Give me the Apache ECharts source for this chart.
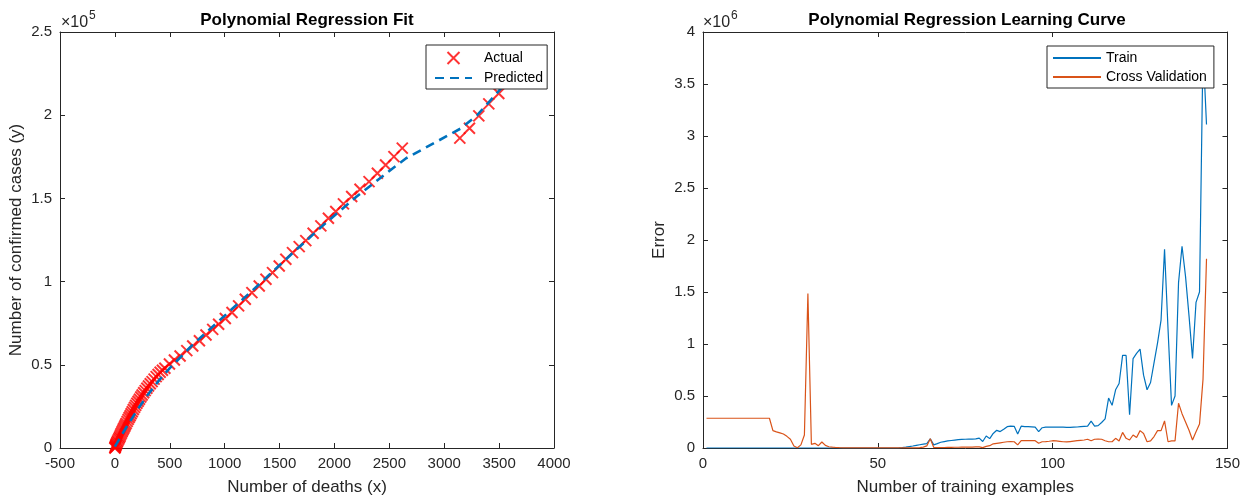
<!DOCTYPE html>
<html><head><meta charset="utf-8">
<script src="https://cdn.jsdelivr.net/npm/echarts@6/dist/echarts.min.js"></script>
<style>html,body{margin:0;padding:0;background:#fff}#c{width:1243px;height:501px}</style>
</head><body><div id="c"></div>
<script>
// ---- Left panel: actual data (deaths vs confirmed cases) ----
const deaths = [0, 2, 4, 6, 9, 12, 16, 21, 26, 33, 39, 45, 51, 58, 65, 73, 80, 88, 95, 103,
  112, 121, 130, 139, 148, 158, 168, 179, 189, 200, 212, 224, 236, 248, 262, 276, 291, 306, 322, 339,
  357, 376, 394, 412, 433, 455, 497, 542, 594, 655, 709, 770, 830, 891, 945, 1006, 1067, 1127, 1188, 1248,
  1315, 1376, 1436, 1497, 1557, 1618, 1679, 1739, 1806, 1876, 1945, 2012, 2082, 2157, 2233, 2315, 2391, 2466, 2542, 2618,
  3142, 3230, 3315, 3406, 3497];
const cases = [0, 300, 700, 1200, 1700, 2200, 2900, 3600, 4300, 5200, 6000, 6800, 7800, 8800, 9800, 10800, 11800, 12800, 13800, 14800,
  16000, 17200, 18300, 19400, 20600, 21800, 23100, 24400, 25600, 26900, 28100, 29300, 30600, 31900, 33200, 34500, 35900, 37300, 38600, 39900,
  41400, 42900, 44200, 45500, 46700, 47900, 50500, 52900, 55300, 58500, 61300, 64500, 67900, 71300, 74400, 77800, 81400, 85400, 89400, 93400,
  97400, 101400, 105400, 109400, 113400, 117400, 121000, 124600, 129100, 133500, 138100, 142100, 146700, 151100, 155500, 160100, 165100, 170100, 175100, 180200,
  186200, 192200, 199600, 206800, 213000];
// ---- Left panel: polynomial prediction ----
const predDeaths = [0, 100, 200, 300, 400, 500, 700, 1000, 1300, 1600, 1900, 2200, 2500, 2650, 3150, 3300, 3530];
const predCases  = [800, 12000, 22500, 32000, 40500, 48000, 61500, 79500, 97500, 116000, 134000, 151000, 166500, 174000, 192000, 200000, 217000];

// ---- Right panel: learning curve errors, training examples 1..144 ----
const trainError = [
  0,0,0,0,0,0,0,0,0,0,
  0,0,0,0,0,0,0,0,0,0,
  0,0,0,0,0,0,0,0,0,0,
  0,0,0,0,0,0,0,0,0,0,
  0,0,0,0,0,0,0,0,0,0,
  0,0,0,0,0,2000,5000,9000,14000,19000,
  25000,31000,37000,42000,88000,30000,42000,55000,62000,68000,
  72000,76000,80000,82000,84000,85000,86000,88000,95000,62000,
  115000,90000,140000,170000,158000,180000,205000,210000,208000,135000,
  210000,205000,205000,203000,200000,158000,195000,200000,200000,200000,
  200000,200000,200000,198000,198000,200000,202000,205000,208000,210000,
  258000,210000,215000,245000,280000,480000,410000,560000,620000,890000,
  890000,320000,860000,910000,950000,700000,560000,630000,820000,1010000,
  1230000,1910000,1140000,410000,500000,1590000,1940000,1650000,1270000,860000,
  1400000,1500000,3850000,3110000];
const cvError = [
  286000,286000,286000,286000,286000,286000,286000,286000,286000,286000,
  286000,286000,286000,286000,286000,286000,286000,286000,286000,167000,
  155000,145000,135000,112000,85000,20000,3000,30000,125000,1485000,
  35000,45000,22000,58000,25000,12000,8000,5000,3000,2000,
  2000,2000,2000,2000,2000,2000,2000,2000,2000,2000,
  2000,2000,2000,2000,2000,2000,2000,2000,2000,2000,
  2000,3000,8000,20000,88000,5000,5000,5000,5000,6000,
  6000,7000,7000,8000,8000,9000,9000,10000,10000,4000,
  15000,22000,40000,45000,50000,55000,60000,62000,60000,30000,
  70000,70000,70000,70000,70000,45000,60000,62000,65000,70000,
  68000,64000,60000,58000,62000,66000,70000,74000,77000,84000,
  70000,84000,86000,84000,70000,60000,60000,93000,68000,150000,
  93000,77000,125000,100000,167000,140000,60000,68000,110000,167000,
  167000,260000,60000,68000,68000,430000,330000,250000,170000,77000,
  157000,230000,660000,1820000];

const FONT = '"Liberation Sans", Arial, Helvetica, sans-serif';
const AX = '#262626';
const XMARK = 'path://M0,0L10,10M10,0L0,10';
const NOSYM = {opacity: 0};

function axis(gridIndex, pos, min, max, interval, fmt, name, nameGap, labels) {
  return {
    type: 'value', gridIndex: gridIndex, position: pos, min: min, max: max, interval: interval,
    name: labels ? name : '', nameLocation: 'middle', nameGap: nameGap,
    nameTextStyle: {fontFamily: FONT, fontSize: 17, color: AX},
    axisLine: {show: true, onZero: false, lineStyle: {color: AX, width: 1}},
    axisTick: {show: true, inside: true, length: 5, lineStyle: {color: AX}},
    axisLabel: {show: labels, margin: 8, fontFamily: FONT, fontSize: 15, color: AX, formatter: fmt},
    splitLine: {show: false}
  };
}
const plain = v => String(v);

const chart = echarts.init(document.getElementById('c'), null, {renderer: 'canvas'});
chart.setOption({
  animation: false,
  backgroundColor: '#fff',
  grid: [
    {left: 60, right: 689, top: 32, bottom: 53},
    {left: 703, right: 14, top: 32, bottom: 53}
  ],
  xAxis: [
    axis(0, 'bottom', -500, 4000, 500, plain, 'Number of deaths (x)', 31, true),
    axis(0, 'top', -500, 4000, 500, plain, '', 0, false),
    axis(1, 'bottom', 0, 150, 50, plain, 'Number of training examples', 31, true),
    axis(1, 'top', 0, 150, 50, plain, '', 0, false)
  ],
  yAxis: [
    axis(0, 'left', 0, 250000, 50000, v => String(v / 1e5), 'Number of confirmed cases (y)', 35, true),
    axis(0, 'right', 0, 250000, 50000, plain, '', 0, false),
    axis(1, 'left', 0, 4000000, 500000, v => String(v / 1e6), 'Error', 35, true),
    axis(1, 'right', 0, 4000000, 500000, plain, '', 0, false)
  ],
  legend: [
    {
      data: [{name: 'Actual', icon: XMARK}, {name: 'Predicted', itemStyle: NOSYM}],
      left: 426, top: 45, orient: 'vertical',
      itemWidth: 37, itemHeight: 12, itemGap: 6,
      padding: [6, 4, 4, 8],
      borderWidth: 1, borderColor: AX, backgroundColor: '#fff', borderRadius: 0,
      textStyle: {fontFamily: FONT, fontSize: 14, color: '#000', lineHeight: 14, padding: [0, 0, 0, 7]}
    },
    {
      data: [{name: 'Train', itemStyle: NOSYM}, {name: 'Cross Validation', itemStyle: NOSYM}],
      left: 1047, top: 46, orient: 'vertical',
      itemWidth: 48, itemHeight: 14, itemGap: 5,
      padding: [5, 7, 4, 5],
      borderWidth: 1, borderColor: AX, backgroundColor: '#fff', borderRadius: 0,
      textStyle: {fontFamily: FONT, fontSize: 14, color: '#000', lineHeight: 14}
    }
  ],
  series: [
    {
      name: 'Actual', type: 'scatter', xAxisIndex: 0, yAxisIndex: 0,
      symbol: XMARK, symbolSize: 11,
      itemStyle: {color: '#FF0000', borderColor: '#FF0000', borderWidth: 2},
      data: deaths.map((d, i) => [d, cases[i]]), z: 2
    },
    {
      name: 'Predicted', type: 'line', xAxisIndex: 0, yAxisIndex: 0,
      symbol: 'none', showSymbol: false,
      lineStyle: {color: '#0072BD', width: 2.6, type: [9, 6]},
      itemStyle: {color: '#0072BD'},
      data: predDeaths.map((d, i) => [d, predCases[i]]), z: 3
    },
    {
      name: 'Train', type: 'line', xAxisIndex: 2, yAxisIndex: 2,
      symbol: 'none', showSymbol: false,
      lineStyle: {color: '#0072BD', width: 1.2},
      itemStyle: {color: '#0072BD'},
      data: trainError.map((v, i) => [i + 1, v])
    },
    {
      name: 'Cross Validation', type: 'line', xAxisIndex: 2, yAxisIndex: 2,
      symbol: 'none', showSymbol: false,
      lineStyle: {color: '#D95319', width: 1.2},
      itemStyle: {color: '#D95319'},
      data: cvError.map((v, i) => [i + 1, v])
    }
  ],
  graphic: [
    {type: 'text', x: 307, y: 20, style: {text: 'Polynomial Regression Fit', font: 'bold 17px ' + FONT, fill: '#000', textAlign: 'center', textVerticalAlign: 'middle'}},
    {type: 'text', x: 967, y: 20, style: {text: 'Polynomial Regression Learning Curve', font: 'bold 17px ' + FONT, fill: '#000', textAlign: 'center', textVerticalAlign: 'middle'}},
    {type: 'text', x: 61, y: 23, style: {text: '×10', font: '16px ' + FONT, fill: AX, textAlign: 'left', textVerticalAlign: 'middle'}},
    {type: 'text', x: 89, y: 16, style: {text: '5', font: '12px ' + FONT, fill: AX, textAlign: 'left', textVerticalAlign: 'middle'}},
    {type: 'text', x: 703, y: 23, style: {text: '×10', font: '16px ' + FONT, fill: AX, textAlign: 'left', textVerticalAlign: 'middle'}},
    {type: 'text', x: 731, y: 16, style: {text: '6', font: '12px ' + FONT, fill: AX, textAlign: 'left', textVerticalAlign: 'middle'}}
  ]
});
</script>
</body></html>
